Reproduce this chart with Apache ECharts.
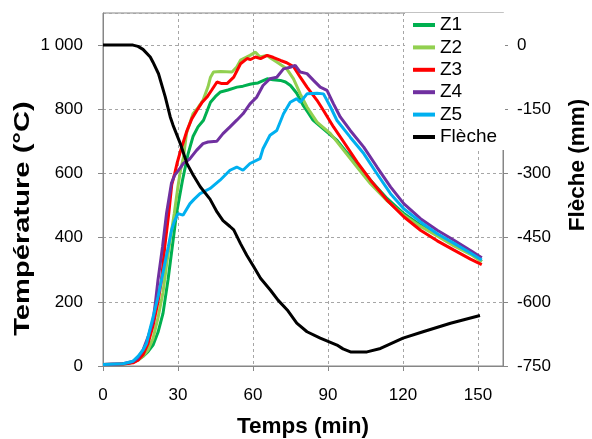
<!DOCTYPE html>
<html>
<head>
<meta charset="utf-8">
<script src="https://cdn.jsdelivr.net/npm/echarts@6/dist/echarts.min.js"></script>
<style>html,body{margin:0;padding:0;background:#fff;}#c{width:592px;height:439px;}</style>
</head>
<body>
<div id="c"></div>
<script>
// Time (min) / temperature (°C) pairs
const z1 = [[0,5],[5,5],[10,8],[12,12],[14,20],[16,30],[18,45],[20,65],[22,105],[24,164],[26,268],[27.7,371],[29.4,475],[31.8,579],[34,660],[36,715],[38,745],[40.2,766],[43,822],[45,840],[47,854],[50,860],[53.6,869],[56,872],[58.8,878],[60.3,880],[62,882],[65.7,895],[68,892],[71,890],[73,885],[75,874],[77.5,850],[80,813],[82,790],[84,766],[88,740],[93.6,703],[97,670],[101.6,631],[107,579],[113.6,522],[120.3,475],[127,439],[133.7,408],[140.4,377],[147,351],[151.5,326]];
const z2 = [[0,5],[8,6],[12,12],[14,18],[16,30],[18,50],[20,85],[22,150],[24,230],[25.5,320],[27,400],[28.5,475],[30,560],[31,610],[32.2,651],[33.4,725],[36,786],[38,805],[40,828],[42,870],[43,900],[44.2,916],[47,918],[51.6,916],[53.5,932],[55,953],[58.8,968],[61,978],[62.8,963],[65.5,968],[67,960],[69.5,947],[73.5,926],[76.2,895],[78.9,848],[81.6,807],[85.6,760],[91,724],[96.3,672],[101.6,620],[107,568],[113.6,515],[120.3,470],[127,435],[133.7,405],[140.4,374],[147,348],[151.5,325]];
const z3 = [[0,5],[8,6],[12,10],[14,18],[16,35],[18,70],[20,125],[22,200],[23.4,268],[24.7,371],[26.3,475],[27.5,565],[28.7,600],[29.6,631],[31,670],[33.6,734],[35.5,770],[37.6,797],[39.5,820],[41.6,838],[43.5,860],[45.6,885],[47.5,880],[49.6,880],[52.3,900],[55,942],[57.6,958],[59,955],[61,963],[63,958],[65.7,968],[68,962],[71,952],[73.5,945],[76.3,932],[78.9,900],[81.6,869],[85.6,828],[88.2,796],[92.2,745],[96.3,698],[101.6,636],[107,579],[113.6,517],[120.3,465],[127,423],[133.7,390],[140.4,361],[147,333],[151.5,316]];
const z4 = [[0,5],[8,7],[12,14],[14,25],[16,50],[18,90],[20,140],[21,200],[22,268],[23.8,371],[25.4,475],[27.4,570],[28.7,595],[30.7,615],[32,630],[34.8,646],[37.4,672],[40,693],[42,698],[45.5,700],[48,724],[50.8,745],[53.5,766],[56,786],[58.8,817],[61.5,838],[64,874],[66.8,895],[69.5,900],[72.2,926],[74.9,931],[76.9,937],[78.9,916],[81.6,911],[84.2,890],[86.9,869],[89.6,859],[92.2,817],[94.9,776],[98.9,734],[104.3,682],[109.6,620],[115,558],[120.3,506],[127,459],[133.7,423],[140.4,392],[147,360],[151.5,337]];
const z5 = [[0,5],[8,7],[12,15],[14,30],[16,50],[17.4,70],[18.7,112],[20.4,164],[22,215],[23.4,268],[25,330],[26.1,371],[27.4,423],[28.5,450],[30,475],[32,470],[34.8,506],[36.5,520],[38.8,537],[42.8,553],[46.8,579],[50.8,610],[53.5,620],[56,610],[58.8,631],[62.8,646],[64,677],[66.8,719],[69.5,734],[72.2,786],[74.9,822],[77.5,833],[78.9,822],[81.6,848],[85.6,850],[88.2,848],[91,807],[93.6,765],[98.9,713],[104.3,662],[109.6,599],[115,537],[120.3,490],[127,449],[133.7,412],[140.4,382],[147,352],[151.5,330]];
// Time (min) / deflection (mm) pairs
const fleche = [[0,0],[12,0],[14,-3],[16,-10],[18.9,-28],[20,-40],[22.2,-67],[24.9,-121],[26.9,-168],[28,-187],[30.9,-230],[33.6,-277],[36,-303],[38.9,-331],[42.8,-360],[45.6,-390],[48,-410],[50.8,-424],[52.3,-432],[55,-464],[57.5,-491],[60.3,-518],[63,-545],[67,-573],[70,-596],[73.7,-619],[77.5,-650],[81.6,-670],[86.9,-685],[93.6,-701],[96,-710],[99,-717],[105.6,-717],[111,-709],[120,-685],[128,-670],[139,-650],[150.8,-632]];

const seriesNames = ['Z1','Z2','Z3','Z4','Z5','Flèche'];
const seriesColors = ['#00B050','#92D050','#FF0000','#7030A0','#00B0F0','#000000'];
const seriesData = [z1,z2,z3,z4,z5,fleche];

const FONT = 'Liberation Sans, Arial, sans-serif';
const chart = echarts.init(document.getElementById('c'));
const gridLine = {show:true, lineStyle:{color:'#A6A6A6', width:1, type:[3,3]}};
const axisLine = {show:true, lineStyle:{color:'#868686', width:1}};
const tick = {show:true, length:5, lineStyle:{color:'#868686'}};

chart.setOption({
  animation:false,
  backgroundColor:'#fff',
  grid:{left:103, right:89, top:13, bottom:73, show:true, borderColor:'#868686', borderWidth:1},
  legend:{
    orient:'vertical', left:405, top:13, itemGap:0.4,
    padding:[1,8,2,8], backgroundColor:'#fff',
    icon:'rect', itemWidth:22, itemHeight:4,
    textStyle:{fontFamily:FONT, fontSize:19, color:'#000', lineHeight:22},
    data:seriesNames
  },
  xAxis:{
    type:'value', min:0, max:160, interval:30,
    axisLine:axisLine, axisTick:tick, splitLine:gridLine,
    axisLabel:{fontFamily:FONT, fontSize:17, color:'#000', margin:21, showMaxLabel:false}
  },
  yAxis:[{
    type:'value', min:0, max:1100, interval:200, position:'left',
    axisLine:axisLine, axisTick:tick, splitLine:gridLine,
    axisLabel:{fontFamily:FONT, fontSize:17, color:'#000', margin:20, showMaxLabel:false,
      formatter:v => String(v).replace(/\B(?=(\d{3})+(?!\d))/g,' ')}
  },{
    type:'value', min:-750, max:75, interval:150, position:'right',
    axisLine:axisLine, axisTick:tick, splitLine:{show:false},
    axisLabel:{fontFamily:FONT, fontSize:17, color:'#000', margin:14, showMaxLabel:false}
  }],
  graphic:[
    {type:'text', x:22.5, y:218.5, rotation:Math.PI/2, scaleX:1.295,
      style:{text:'Température (°C)', font:'bold 22.5px '+FONT, fill:'#000', textAlign:'center', textVerticalAlign:'middle'}},
    {type:'text', x:577.5, y:165, rotation:Math.PI/2,
      style:{text:'Flèche (mm)', font:'bold 22.5px '+FONT, fill:'#000', textAlign:'center', textVerticalAlign:'middle'}},
    {type:'text', x:303, y:427,
      style:{text:'Temps (min)', font:'bold 22.5px '+FONT, fill:'#000', textAlign:'center', textVerticalAlign:'middle'}}
  ],
  series: seriesNames.map((n,i)=>({
    name:n, type:'line', data:seriesData[i], yAxisIndex: i===5 ? 1 : 0,
    showSymbol:false, symbol:'none', lineStyle:{width:3, color:seriesColors[i]},
    itemStyle:{color:seriesColors[i]}, z:2+i*0.1
  }))
});
</script>
</body>
</html>
